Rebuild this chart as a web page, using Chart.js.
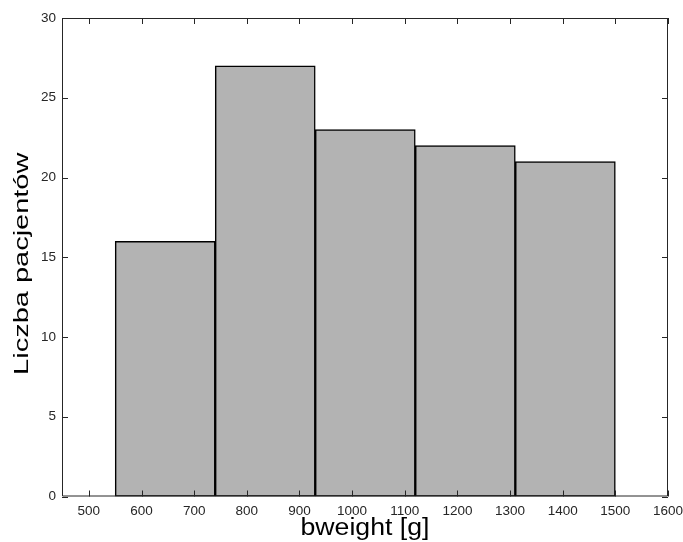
<!DOCTYPE html>
<html>
<head>
<meta charset="utf-8">
<script src="https://cdn.jsdelivr.net/npm/chart.js@4/dist/chart.umd.min.js"></script>
<style>
  html, body { margin: 0; padding: 0; background: #fff; }
  #wrap { width: 683px; height: 542px; }
</style>
</head>
<body>
<div id="wrap"><canvas id="c" width="683" height="542"></canvas></div>
<script>
// Histogram of birth weight: bin edges and patient counts per bin
const binEdges = [550, 740, 930, 1120, 1310, 1500];
const counts = [16, 27, 23, 22, 21];
const xTickValues = [500, 600, 700, 800, 900, 1000, 1100, 1200, 1300, 1400, 1500, 1600];
const yTickValues = [0, 5, 10, 15, 20, 25, 30];
const xLabel = 'bweight [g]';
const yLabel = 'Liczba pacjentów';

const binCenters = counts.map((c, i) => (binEdges[i] + binEdges[i + 1]) / 2);
const bars = counts.map((c, i) => ({ x: binCenters[i], y: c }));

const X_MIN = 449;
const X_MAX = 1600;
const AXIS_COLOR = '#262626';
const FONT = 'Liberation Sans, Arial, Helvetica, sans-serif';

// Box around the plot area with short inward ticks on all four sides
const frameTicks = {
  id: 'frameTicks',
  afterDraw(chart) {
    const { ctx, chartArea: a, scales } = chart;
    const len = 6;
    ctx.save();
    ctx.strokeStyle = AXIS_COLOR;
    ctx.lineWidth = 1;
    ctx.beginPath();
    ctx.rect(a.left + 0.5, a.top + 0.5, a.right - a.left - 1, a.bottom - a.top - 1);
    xTickValues.forEach(v => {
      const px = Math.round(scales.x.getPixelForValue(v)) + 0.5;
      ctx.moveTo(px, a.bottom); ctx.lineTo(px, a.bottom - len);
      ctx.moveTo(px, a.top); ctx.lineTo(px, a.top + len);
    });
    yTickValues.forEach(v => {
      const py = Math.round(scales.y.getPixelForValue(v)) + 0.5;
      ctx.moveTo(a.left, py); ctx.lineTo(a.left + len, py);
      ctx.moveTo(a.right, py); ctx.lineTo(a.right - len, py);
    });
    ctx.stroke();
    ctx.restore();
  }
};

// Axis titles in a wide-set face, placed relative to the plot area
const axisTitles = {
  id: 'axisTitles',
  afterDraw(chart) {
    const { ctx, chartArea: a } = chart;
    ctx.save();
    ctx.fillStyle = '#000';
    ctx.textAlign = 'center';
    ctx.textBaseline = 'alphabetic';
    ctx.font = '23px ' + FONT;
    ctx.translate((a.left + a.right) / 2, a.bottom + 38.5);
    ctx.scale(1.16, 1);
    ctx.fillText(xLabel, 0, 0);
    ctx.restore();

    ctx.save();
    ctx.fillStyle = '#000';
    ctx.textAlign = 'center';
    ctx.textBaseline = 'alphabetic';
    ctx.font = '21px ' + FONT;
    ctx.translate(a.left - 34, (a.top + a.bottom) / 2 + 6.5);
    ctx.rotate(-Math.PI / 2);
    ctx.scale(1.38, 1);
    ctx.fillText(yLabel, 0, 0);
    ctx.restore();
  }
};

new Chart(document.getElementById('c'), {
  type: 'bar',
  data: {
    datasets: [{
      data: bars,
      xAxisID: 'bins',
      backgroundColor: '#b3b3b3',
      borderColor: '#000',
      borderWidth: 1.5,
      borderSkipped: false,
      barPercentage: 1,
      categoryPercentage: 1
    }]
  },
  options: {
    responsive: false,
    animation: false,
    events: [],
    layout: { padding: { top: 18, right: 15, left: 0, bottom: 0 } },
    plugins: { legend: { display: false }, tooltip: { enabled: false } },
    scales: {
      // hidden axis spanning the same range; its ticks sit on the bin centres
      // so each bar fills its whole bin width
      bins: {
        type: 'linear',
        position: 'bottom',
        display: false,
        offset: false,
        min: X_MIN,
        max: X_MAX,
        afterBuildTicks(scale) { scale.ticks = binCenters.map(v => ({ value: v })); }
      },
      x: {
        type: 'linear',
        position: 'bottom',
        offset: false,
        min: X_MIN,
        max: X_MAX,
        afterBuildTicks(scale) { scale.ticks = xTickValues.map(v => ({ value: v })); },
        afterFit(scale) {
          scale.height = 45.5;
          scale.paddingLeft = 0;
          scale.paddingRight = 0;
        },
        grid: { display: false, drawTicks: false },
        border: { display: false },
        ticks: {
          padding: 7,
          color: AXIS_COLOR,
          font: { family: FONT, size: 13.5 },
          maxRotation: 0,
          autoSkip: false,
          callback: v => String(v)
        }
      },
      y: {
        min: 0,
        max: 30,
        afterBuildTicks(scale) { scale.ticks = yTickValues.map(v => ({ value: v })); },
        afterFit(scale) {
          scale.width = 62;
          scale.paddingTop = 0;
          scale.paddingBottom = 0;
        },
        grid: { display: false, drawTicks: false },
        border: { display: false },
        ticks: {
          padding: 6,
          color: AXIS_COLOR,
          font: { family: FONT, size: 13.5 },
          autoSkip: false
        }
      }
    }
  },
  plugins: [frameTicks, axisTitles]
});
</script>
</body>
</html>
